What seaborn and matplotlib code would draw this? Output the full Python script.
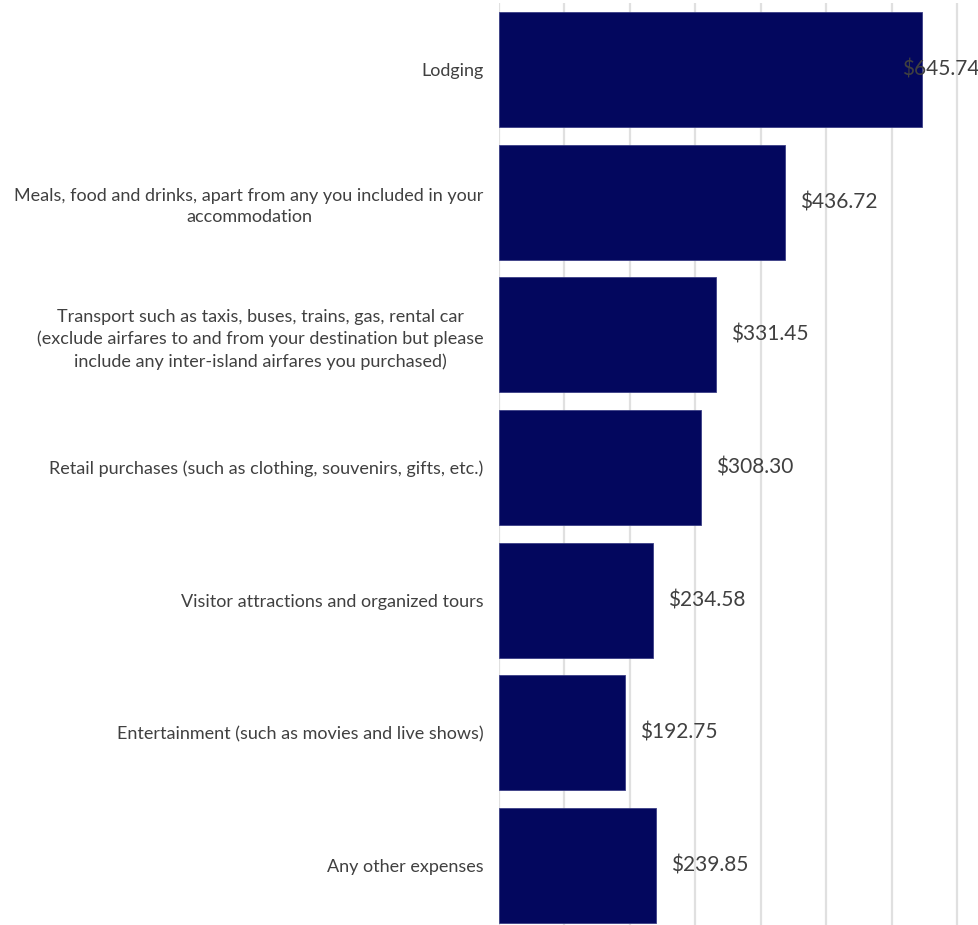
import matplotlib
matplotlib.use("Agg")
import matplotlib.pyplot as plt
import seaborn as sns
import pandas as pd

categories = [
    "Lodging",
    "Meals, food and drinks, apart from any you included in your\naccommodation",
    "Transport such as taxis, buses, trains, gas, rental car\n(exclude airfares to and from your destination but please\ninclude any inter-island airfares you purchased)",
    "Retail purchases (such as clothing, souvenirs, gifts, etc.)",
    "Visitor attractions and organized tours",
    "Entertainment (such as movies and live shows)",
    "Any other expenses",
]
spend = [645.74, 436.72, 331.45, 308.30, 234.58, 192.75, 239.85]

df = pd.DataFrame({"category": categories, "spend": spend})

sns.set_theme(style="white")
plt.rcParams["font.family"] = ["Lato", "DejaVu Sans"]

W, H = 979, 925
fig = plt.figure(figsize=(W / 100, H / 100), dpi=100)
ax = fig.add_axes([499 / W, -7 / H, 1 - 499 / W, 929 / H])

bar_color = "#03075E"
sns.barplot(data=df, x="spend", y="category", orient="h", color=bar_color,
            width=0.867, saturation=1, edgecolor="#3b3f86", linewidth=0.6, ax=ax)

xmax = 733
ax.set_xlim(0, xmax)
ax.set_ylim(6.5, -0.5)
ax.set_xticks(range(0, 800, 100))
ax.xaxis.grid(True, color="#e0e0e0", linewidth=1.6)
ax.set_axisbelow(True)
ax.set_xticklabels([])
ax.tick_params(axis="x", length=0)
ax.tick_params(axis="y", length=0, pad=11, labelsize=13.0, labelcolor="#404040")
for lbl in ax.get_yticklabels():
    lbl.set_multialignment("center")
    lbl.set_linespacing(1.45)
for s in ax.spines.values():
    s.set_visible(False)
ax.set_xlabel("")
ax.set_ylabel("")

text_color = "#404040"
for i, v in enumerate(spend):
    label = f"${v:,.2f}"
    if v + 120 > xmax:
        ax.text(xmax + 1, i, label, ha="right", va="center", fontsize=15,
                color=text_color, clip_on=False)
    else:
        ax.annotate(label, (v, i), xytext=(15, 0), textcoords="offset pixels",
                    ha="left", va="center", fontsize=15, color=text_color)

fig.savefig("out.png", dpi=100)
